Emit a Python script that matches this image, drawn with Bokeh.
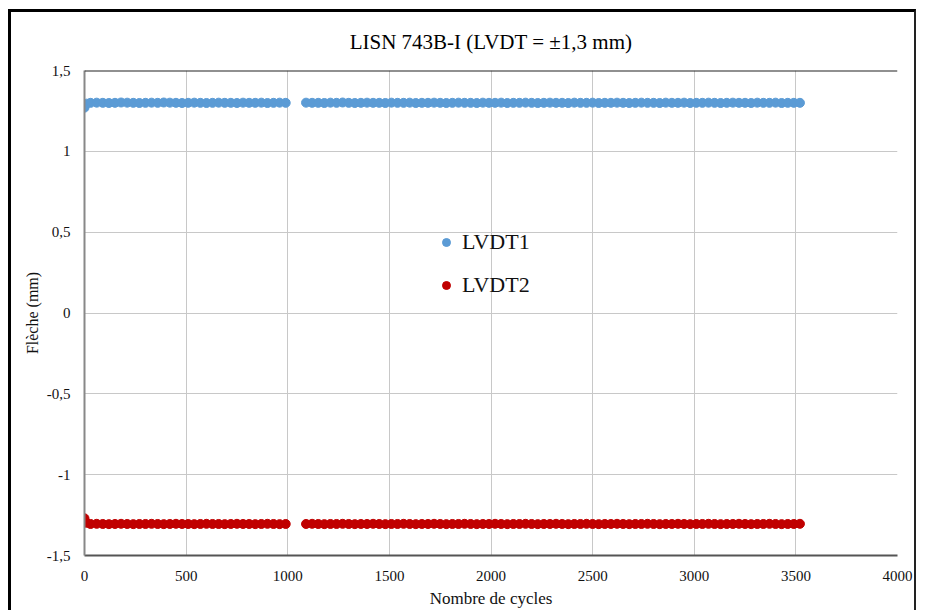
from bokeh.plotting import figure
from bokeh.models import (ColumnDataSource, Legend, LegendItem, CustomJSTickFormatter,
                          FixedTicker, Range1d, Span, CDSView, IndexFilter)
from bokeh.embed import file_html
from bokeh.resources import INLINE

# Nombre de cycles (sampled)
cycles = [0, 10, 30, 60, 90, 120, 150, 180, 210, 240,
          270, 300, 330, 360, 390, 420, 450, 480, 510, 540,
          570, 600, 630, 660, 690, 720, 750, 780, 810, 840,
          870, 900, 930, 960, 990, 1090, 1120, 1150, 1180, 1210,
          1240, 1270, 1300, 1330, 1360, 1390, 1420, 1450, 1480, 1510,
          1540, 1570, 1600, 1630, 1660, 1690, 1720, 1750, 1780, 1810,
          1840, 1870, 1900, 1930, 1960, 1990, 2020, 2050, 2080, 2110,
          2140, 2170, 2200, 2230, 2260, 2290, 2320, 2350, 2380, 2410,
          2440, 2470, 2500, 2530, 2560, 2590, 2620, 2650, 2680, 2710,
          2740, 2770, 2800, 2830, 2860, 2890, 2920, 2950, 2980, 3010,
          3040, 3070, 3100, 3130, 3160, 3190, 3220, 3250, 3280, 3310,
          3340, 3370, 3400, 3430, 3460, 3490, 3520]

lvdt1 = [1.270, 1.295, 1.300, 1.301, 1.300, 1.299, 1.300, 1.302, 1.301, 1.300,
         1.299, 1.300, 1.301, 1.300, 1.302, 1.301, 1.300, 1.299, 1.300, 1.301,
         1.300, 1.299, 1.300, 1.301, 1.300, 1.300, 1.299, 1.301, 1.300, 1.300,
         1.301, 1.299, 1.300, 1.301, 1.300, 1.301, 1.300, 1.300, 1.299, 1.301,
         1.300, 1.302, 1.300, 1.299, 1.300, 1.301, 1.300, 1.300, 1.299, 1.301,
         1.300, 1.300, 1.301, 1.299, 1.300, 1.300, 1.301, 1.300, 1.299, 1.300,
         1.301, 1.300, 1.300, 1.299, 1.301, 1.300, 1.300, 1.301, 1.299, 1.300,
         1.300, 1.301, 1.300, 1.299, 1.300, 1.301, 1.300, 1.300, 1.299, 1.301,
         1.300, 1.300, 1.301, 1.299, 1.300, 1.300, 1.301, 1.300, 1.299, 1.300,
         1.301, 1.300, 1.300, 1.299, 1.301, 1.300, 1.300, 1.301, 1.299, 1.300,
         1.300, 1.301, 1.300, 1.299, 1.300, 1.301, 1.300, 1.300, 1.299, 1.301,
         1.300, 1.300, 1.301, 1.299, 1.300, 1.300, 1.300]

lvdt2 = [-1.270, -1.298, -1.305, -1.304, -1.305, -1.306, -1.305, -1.304, -1.305, -1.306,
         -1.305, -1.305, -1.304, -1.305, -1.306, -1.305, -1.304, -1.305, -1.305, -1.306,
         -1.305, -1.304, -1.305, -1.305, -1.306, -1.305, -1.304, -1.305, -1.305, -1.306,
         -1.305, -1.304, -1.305, -1.306, -1.305, -1.305, -1.304, -1.305, -1.306, -1.305,
         -1.305, -1.304, -1.305, -1.306, -1.305, -1.305, -1.304, -1.305, -1.306, -1.305,
         -1.305, -1.304, -1.305, -1.306, -1.305, -1.305, -1.304, -1.305, -1.306, -1.305,
         -1.305, -1.304, -1.305, -1.306, -1.305, -1.305, -1.304, -1.305, -1.306, -1.305,
         -1.305, -1.304, -1.305, -1.306, -1.305, -1.305, -1.304, -1.305, -1.306, -1.305,
         -1.305, -1.304, -1.305, -1.306, -1.305, -1.305, -1.304, -1.305, -1.306, -1.305,
         -1.305, -1.304, -1.305, -1.306, -1.305, -1.305, -1.304, -1.305, -1.306, -1.305,
         -1.305, -1.304, -1.305, -1.306, -1.305, -1.305, -1.304, -1.305, -1.306, -1.305,
         -1.305, -1.304, -1.305, -1.306, -1.305, -1.305, -1.304]

x_ticks = [0, 500, 1000, 1500, 2000, 2500, 3000, 3500, 4000]
y_ticks = [-1.5, -1.0, -0.5, 0.0, 0.5, 1.0, 1.5]
series_names = ["LVDT1", "LVDT2"]
series_colors = ["#5B9BD5", "#C00000"]

FONT = "Liberation Serif"

p = figure(width=908, height=601, output_backend="svg", toolbar_location=None,
           x_range=Range1d(0, 4000), y_range=Range1d(-1.5, 1.5),
           min_border_left=73, min_border_right=22, min_border_top=58, min_border_bottom=58)
# outer chart frame; its bottom edge lies outside the view, as in the reference
p.styles = {"margin-left": "8px", "margin-top": "9px",
            "border-top": "3px solid #000000", "border-left": "3px solid #000000",
            "border-right": "2px solid #222222"}

p.title.text = "LISN 743B-I (LVDT = \u00b11,3 mm)"
p.title.text_font = FONT
p.title.text_font_size = "21px"
p.title.text_font_style = "normal"
p.title.align = "center"
p.title.vertical_align = "top"
p.title.padding = 15
p.title.standoff = 0
p.title.text_color = "#000000"

fmt = CustomJSTickFormatter(code="return String(tick).replace('.', ',');")
p.xaxis.ticker = FixedTicker(ticks=x_ticks)
p.yaxis.ticker = FixedTicker(ticks=y_ticks)
p.xaxis.formatter = fmt
p.yaxis.formatter = fmt
for ax in (p.xaxis, p.yaxis):
    ax.major_label_text_font = FONT
    ax.major_label_text_font_size = "15px"
    ax.major_label_text_color = "#111111"
    ax.axis_label_text_font = FONT
    ax.axis_label_text_font_size = "16px"
    ax.axis_label_text_font_style = "normal"
    ax.axis_label_text_color = "#111111"
    ax.major_tick_in = 0
    ax.major_tick_out = 0
    ax.minor_tick_in = 0
    ax.minor_tick_out = 0
p.xaxis.axis_label = "Nombre de cycles"
p.yaxis.axis_label = "Fl\u00e8che (mm)"
p.xaxis.axis_label_text_font_size = "17px"
p.xaxis.axis_line_color = "#555555"
p.xaxis.axis_line_width = 2
p.yaxis.axis_line_color = "#888888"
p.yaxis.axis_line_width = 2
p.xaxis.major_label_standoff = 15
p.yaxis.major_label_standoff = 14
p.xaxis.axis_label_standoff = 5
p.yaxis.axis_label_standoff = 3

p.xgrid.grid_line_color = "#c8c8c8"
p.ygrid.grid_line_color = "#c8c8c8"
p.outline_line_color = None
p.add_layout(Span(location=1.5, dimension="width", line_color="#222222", line_width=2))

src = ColumnDataSource(dict(x=cycles, y1=lvdt1, y2=lvdt2))
r1 = p.scatter("x", "y1", source=src, size=9, color=series_colors[0])
r2 = p.scatter("x", "y2", source=src, size=9, color=series_colors[1])

# smaller legend markers (drawn inside the first plotted marker, so not visible in the plot)
l1 = p.scatter("x", "y1", source=src, view=CDSView(filter=IndexFilter([0])), size=7,
               color=series_colors[0])
l2 = p.scatter("x", "y2", source=src, view=CDSView(filter=IndexFilter([0])), size=7,
               color=series_colors[1])

legend = Legend(items=[LegendItem(label=series_names[0], renderers=[l1]),
                       LegendItem(label=series_names[1], renderers=[l2])],
                location=(352, 257), border_line_color=None, background_fill_alpha=0,
                label_text_font=FONT, label_text_font_size="22px",
                label_text_color="#111111",
                glyph_width=20, glyph_height=20, label_height=20, spacing=17,
                padding=5, margin=0, label_standoff=6)
p.add_layout(legend)

open("out.html", "w").write(file_html(p, INLINE))
